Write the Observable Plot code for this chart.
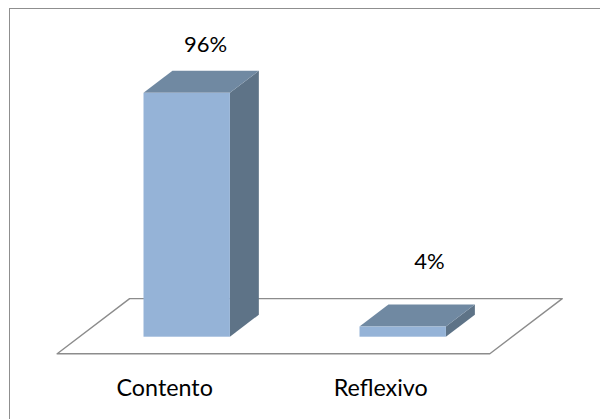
<!DOCTYPE html>
<html><head><meta charset="utf-8">
<script src="https://cdn.jsdelivr.net/npm/d3@7"></script>
<script src="https://cdn.jsdelivr.net/npm/@observablehq/plot@0.6"></script>
<style>
body{margin:0;background:#fff;}
#wrap{position:relative;width:600px;height:419px;overflow:hidden;background:#fff;}
#frame{position:absolute;left:9px;top:8px;width:700px;height:600px;border:1px solid #8f8f8f;pointer-events:none;}
</style>
</head><body><div id="wrap"><div id="frame"></div></div>
<script>
const categories = ["Contento", "Reflexivo"];
const values = [96, 4];
const valueLabels = ["96%", "4%"];

const data = categories.map((c, i) => ({cat: c, value: values[i], label: valueLabels[i], i}));

// 3D geometry (slot units on x, value units on y)
const half = 0.2, dX = 0.134, dY = 8.66;
const colFront = "#95B3D7", colTop = "#7089A2", colSide = "#5E7387";

const topPts = data.flatMap(d => [
  {i: d.i, y: d.value, xa: d.i + 0.5 - half, xb: d.i + 0.5 + half},
  {i: d.i, y: d.value + dY, xa: d.i + 0.5 - half + dX, xb: d.i + 0.5 + half + dX}
]);
const sidePts = data.flatMap(d => [
  {i: d.i, x: d.i + 0.5 + half, ya: 0, yb: d.value},
  {i: d.i, x: d.i + 0.5 + half + dX, ya: dY, yb: d.value + dY}
]);
const fFront = -6.54, fBack = 15.2, fL = -0.102, fR = 1.901, fD = 0.3355;
const floorPts = [
  {x: fL, y: fFront}, {x: fR, y: fFront}, {x: fR + fD, y: fBack}, {x: fL + fD, y: fBack}, {x: fL, y: fFront}
];

const font = "Lato, 'Open Sans', sans-serif";

const chart = Plot.plot({
  width: 600, height: 419,
  marginTop: 0, marginRight: 0, marginBottom: 0, marginLeft: 0,
  x: {type: "linear", domain: [0, 2], range: [78.7, 510.7], axis: null},
  y: {type: "linear", domain: [0, 100], range: [336.7, 82.7], axis: null},
  style: {fontFamily: font, background: "transparent"},
  marks: [
    Plot.line(floorPts, {x: "x", y: "y", stroke: "#8c8c8c", strokeWidth: 1.4, curve: "linear"}),
    Plot.areaY(sidePts, {x: "x", y1: "ya", y2: "yb", z: "i", fill: colSide, curve: "linear"}),
    Plot.areaX(topPts, {y: "y", x1: "xa", x2: "xb", z: "i", fill: colTop, curve: "linear"}),
    Plot.rect(data, {x1: d => d.i + 0.5 - half, x2: d => d.i + 0.5 + half, y1: 0, y2: "value", fill: colFront}),
    Plot.text(data, {
      x: d => d.i + 0.5, y: "value", text: "label",
      fontSize: 22, fill: "#000", lineAnchor: "bottom"
    }),
    Plot.text(data, {x: d => d.i + 0.5, y: -23.3, text: "cat", dx: -22.5, fontSize: 23.3, fill: "#000", lineAnchor: "bottom"})
  ]
});
document.getElementById("wrap").prepend(chart);
// value-label offsets as Excel places them
const vl = chart.querySelectorAll("g[aria-label='text']")[0].querySelectorAll("text");
const offs = [[18.3, -41.6], [26.3, -58.4]];
vl.forEach((t, k) => {
  const tr = t.getAttribute("transform") || "";
  t.setAttribute("transform", tr + ` translate(${offs[k][0]},${offs[k][1]})`);
});
</script>
</body></html>
